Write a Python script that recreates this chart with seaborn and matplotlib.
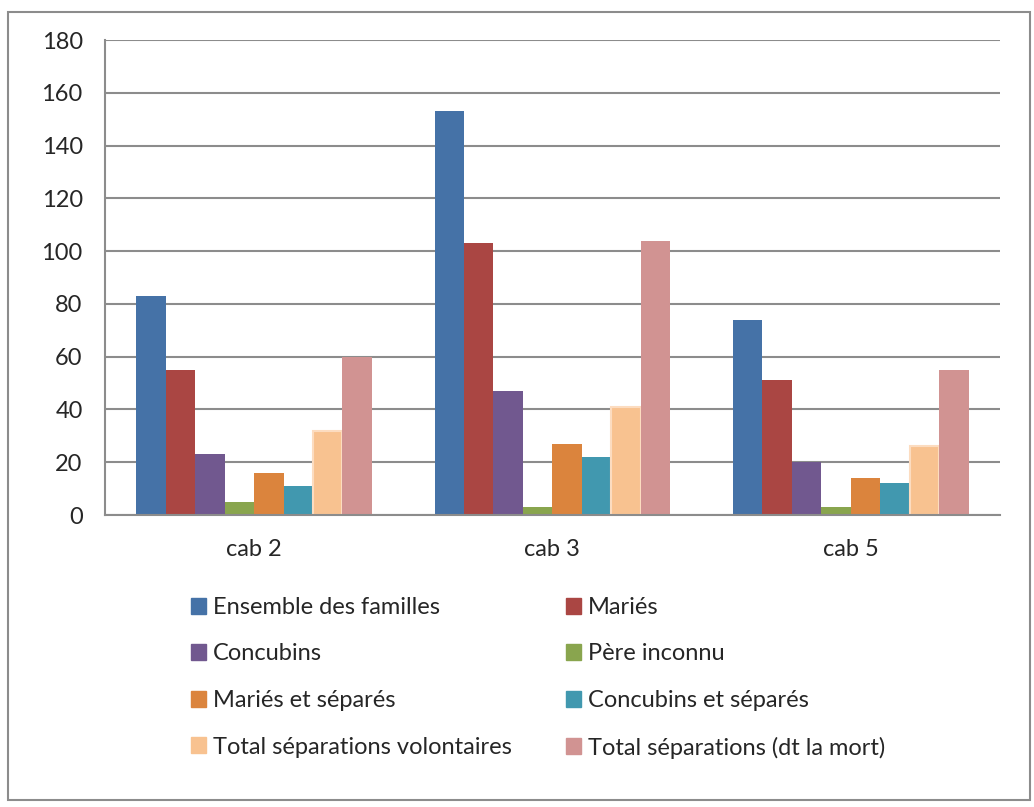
import seaborn as sns
import matplotlib.pyplot as plt
import matplotlib.patches as mpatches
import pandas as pd

# values
cabs = ['cab 2', 'cab 3', 'cab 5']
series = ['Ensemble des familles', 'Mariés', 'Concubins', 'Père inconnu',
          'Mariés et séparés', 'Concubins et séparés',
          'Total séparations volontaires', 'Total séparations (dt la mort)']
ensemble = [83, 153, 74]
maries = [55, 103, 51]
concubins = [23, 47, 20]
pere_inconnu = [5, 3, 3]
maries_sep = [16, 27, 14]
concubins_sep = [11, 22, 12]
total_vol = [32, 41, 26]
total_mort = [60, 104, 55]
colors = ['#4572A7', '#AA4643', '#71588F', '#89A54E',
          '#DB843D', '#4198AF', '#F8C290', '#D19392']

values = [ensemble, maries, concubins, pere_inconnu,
          maries_sep, concubins_sep, total_vol, total_mort]
rows = []
for name, vals in zip(series, values):
    for cab, v in zip(cabs, vals):
        rows.append({'cab': cab, 'serie': name, 'valeur': v})
df = pd.DataFrame(rows)

sns.set_style('white')
plt.rcParams['font.family'] = ['Lato', 'DejaVu Sans']

fig = plt.figure(figsize=(10.34, 8.07), dpi=100)
ax = fig.add_axes([0.1015, 0.3618, 0.8655, 0.5886])

sns.barplot(data=df, x='cab', y='valeur', hue='serie', hue_order=series,
            palette=colors, width=0.79, saturation=1, legend=False,
            linewidth=0, ax=ax)
# the light peach series has a paler outline in the original
for bar in ax.containers[6]:
    bar.set_edgecolor('#FCDCC0')
    bar.set_linewidth(1.5)

ax.set_ylim(0, 180)
ax.set_xlim(-0.5, 2.5)
ax.set_yticks(range(0, 181, 20))
ax.yaxis.grid(True, color='#8c8c8c', linewidth=1.5)
ax.set_axisbelow(True)
ax.set_xlabel('')
ax.set_ylabel('')

for side in ['top', 'right']:
    ax.spines[side].set_visible(False)
for side in ['left', 'bottom']:
    ax.spines[side].set_color('#8c8c8c')
    ax.spines[side].set_linewidth(1.5)

ax.set_xticks([-0.5, 0.5, 1.5, 2.5], minor=True)
ax.tick_params(axis='x', which='major', length=0, labelsize=17, pad=17)
ax.tick_params(axis='x', which='minor', length=8, width=1.5, color='#8c8c8c',
               direction='out')
ax.tick_params(axis='y', length=8, width=1.5, color='#8c8c8c',
               direction='out', labelsize=17, pad=8)

# legend laid out row by row in two columns
handles = [mpatches.Patch(color=c, label=s) for c, s in zip(colors, series)]
leg_kw = dict(loc='upper left', frameon=False, fontsize=17,
              handlelength=0.64, handleheight=0.64, handletextpad=0.3,
              labelspacing=1.08, borderpad=0, borderaxespad=0)
fig.legend(handles=handles[0::2], bbox_to_anchor=(191 / 1034, 1 - 597 / 807), **leg_kw)
fig.legend(handles=handles[1::2], bbox_to_anchor=(566 / 1034, 1 - 597 / 807), **leg_kw)

# outer chart border
fig.patches.append(mpatches.Rectangle((8 / 1034, 7 / 807), 1022 / 1034, 788 / 807,
                                      transform=fig.transFigure, fill=False,
                                      edgecolor='#8c8c8c', linewidth=1.5))

plt.savefig('out.png', dpi=100)
